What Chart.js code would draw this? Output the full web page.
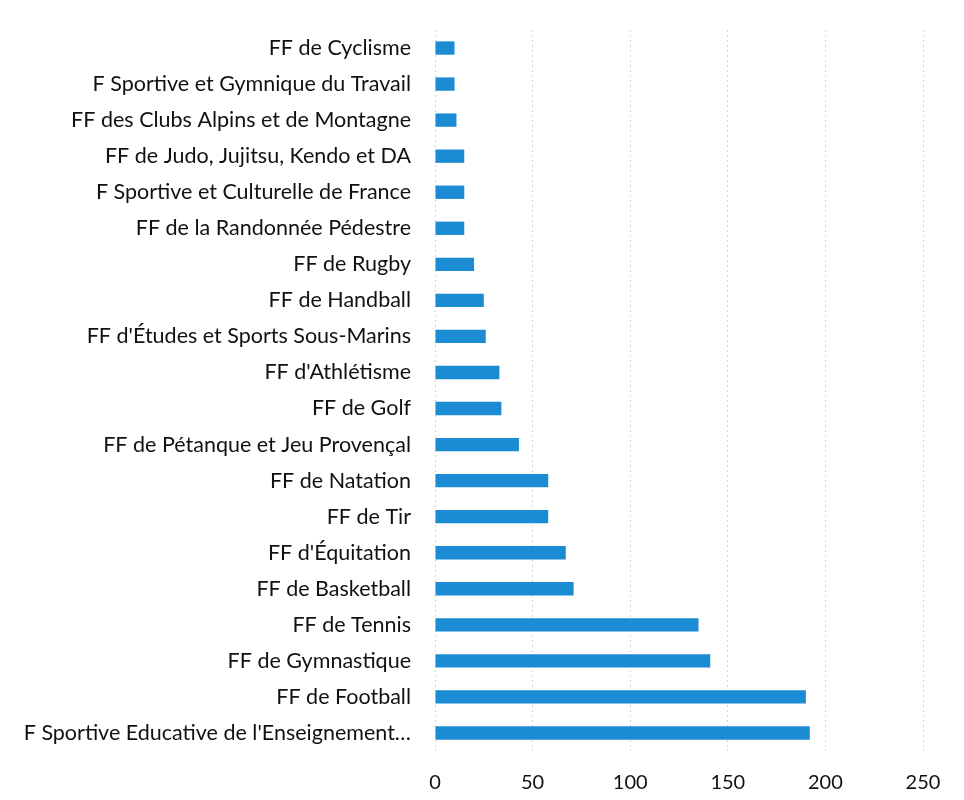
<!DOCTYPE html>
<html>
<head>
<meta charset="utf-8">
<script src="https://cdn.jsdelivr.net/npm/chart.js@4/dist/chart.umd.min.js"></script>
<style>
  html, body { margin: 0; padding: 0; background: #ffffff; }
  #wrap { width: 964px; height: 800px; }
</style>
</head>
<body>
<div id="wrap"><canvas id="fedChart" width="964" height="800"></canvas></div>
<script>
// Federations, top to bottom as in the picture
const federations = [
  'FF de Cyclisme',
  'F Sportive et Gymnique du Travail',
  'FF des Clubs Alpins et de Montagne',
  'FF de Judo, Jujitsu, Kendo et DA',
  'F Sportive et Culturelle de France',
  'FF de la Randonnée Pédestre',
  'FF de Rugby',
  'FF de Handball',
  "FF d'Études et Sports Sous-Marins",
  "FF d'Athlétisme",
  'FF de Golf',
  'FF de Pétanque et Jeu Provençal',
  'FF de Natation',
  'FF de Tir',
  "FF d'Équitation",
  'FF de Basketball',
  'FF de Tennis',
  'FF de Gymnastique',
  'FF de Football',
  "F Sportive Educative de l'Enseignement…",
];

// Bar values
const counts = [10, 10, 11, 15, 15, 15, 20, 25, 26, 33, 34, 43, 58, 58, 67, 71, 135, 141, 190, 192];

// X axis ticks
const xTicks = [0, 50, 100, 150, 200, 250];

const FONT = 'Lato, "Open Sans", "Liberation Sans", sans-serif';

const ctx = document.getElementById('fedChart').getContext('2d');
const fedChart = new Chart(ctx, {
  type: 'bar',
  data: {
    labels: federations,
    datasets: [
      {
        data: counts,
        backgroundColor: '#1b8bd3',
        borderWidth: 0,
        categoryPercentage: 1,
        barPercentage: 0.37,
      },
    ],
  },
  options: {
    indexAxis: 'y',
    responsive: false,
    animation: false,
    layout: {
      padding: { top: 30, right: 41, bottom: 0, left: 0 },
    },
    scales: {
      x: {
        min: xTicks[0],
        max: xTicks[xTicks.length - 1],
        afterBuildTicks: (scale) => {
          scale.ticks = xTicks.map((v) => ({ value: v }));
        },
        afterFit: (scale) => {
          scale.height = 49;
        },
        grid: {
          color: '#d4d4d4',
          lineWidth: 1,
          drawTicks: false,
        },
        border: { display: false, dash: [2, 3] },
        ticks: {
          padding: 20,
          color: '#111111',
          font: { family: FONT, size: 20 },
        },
      },
      y: {
        afterFit: (scale) => {
          scale.width = 435;
          // labels sit inside their category band, no extra room needed
          scale.paddingTop = 0;
          scale.paddingBottom = 0;
        },
        grid: { display: false, drawTicks: false },
        border: { display: false },
        ticks: {
          padding: 24,
          color: '#111111',
          autoSkip: false,
          font: { family: FONT, size: 21.5 },
        },
      },
    },
    plugins: {
      legend: { display: false },
      tooltip: { enabled: false },
    },
  },
});
</script>
</body>
</html>
